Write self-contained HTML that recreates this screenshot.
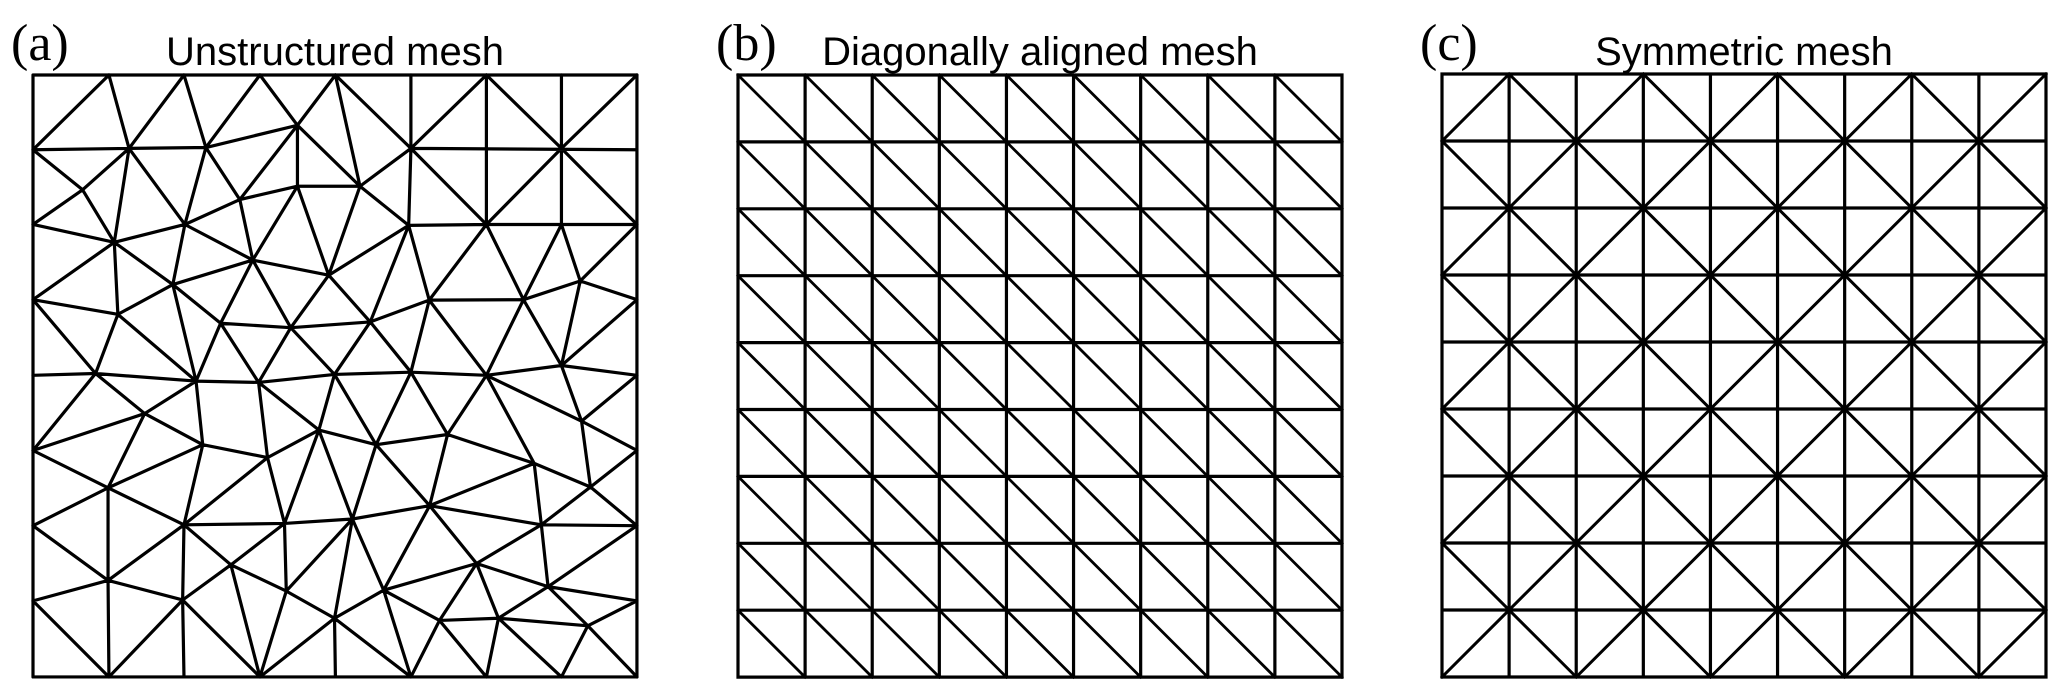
<!DOCTYPE html>
<html><head><meta charset="utf-8"><style>
html,body{margin:0;padding:0;background:#fff;}
svg{display:block;}
</style></head><body>
<svg width="2067" height="699" viewBox="0 0 2067 699" xmlns="http://www.w3.org/2000/svg">
<g font-family="Liberation Serif, serif" font-size="52" fill="#000">
<text x="11" y="60">(a)</text>
<text x="716" y="60">(b)</text>
<text x="1420" y="60">(c)</text>
</g>
<g font-family="Liberation Sans, sans-serif" font-size="40" fill="#000" text-anchor="middle">
<text x="335" y="65">Unstructured mesh</text>
<text x="1040" y="65">Diagonally aligned mesh</text>
<text x="1744" y="65">Symmetric mesh</text>
</g>

<!-- Panel a -->
<g transform="translate(33,75) scale(0.4467,0.4449) translate(-75,-167)" fill="none" stroke="#000" stroke-width="3.2" stroke-linejoin="round" stroke-linecap="round">
<rect x="75" y="167" width="1352" height="1353" vector-effect="non-scaling-stroke"/>
<path vector-effect="non-scaling-stroke" d="
M75 335L245 167 M245 167L290 332 M290 332L413 167 M413 167L462 330 M462 330L583 167 M583 167L667 280 M667 280L752 167
M752 167L807 417 M752 167L921 332 M462 330L667 280 M921 167L921 332 M921 332L1090 167 M1090 167L1090 335 M1090 167L1258 332
M1258 332L1427 167 M1258 167L1258 332 M921 332L1427 335 M1090 335L1090 503 M1258 332L1258 503 M916 505L1090 503L1427 503
M921 332L916 505 M75 335L290 332L462 330 M75 335L186 425 M186 425L75 503 M186 425L290 332 M186 425L257 543 M290 332L257 543
M290 332L415 503 M462 330L415 503 M462 330L538 447 M667 280L538 447 M667 280L667 417 M667 280L807 417 M538 447L667 417L807 417
M807 417L921 332 M807 417L916 505 M921 332L1090 503 M1090 503L1258 332 M1258 332L1427 503
M75 503L257 543L415 503L538 447 M538 447L567 583 M415 503L567 583 M667 417L567 583 M667 417L737 617 M807 417L737 617
M567 583L737 617L916 505 M257 543L75 672 M257 543L265 705 M257 543L388 638 M415 503L388 638 M567 583L388 638
M75 672L265 705L388 638 M916 505L962 673 M916 505L830 722 M1090 503L962 673 M1090 503L1173 672 M1258 503L1173 672
M1258 503L1300 630 M1427 503L1300 630 M962 673L1173 672L1300 630L1427 672 M737 617L652 735 M737 617L830 722
M567 583L652 735 M567 583L495 725 M388 638L495 725 M495 725L652 735L830 722L962 673 M75 672L215 838 M265 705L215 838
M265 705L440 855 M388 638L440 855 M495 725L440 855 M495 725L580 858 M652 735L580 858 M652 735L750 840 M830 722L750 840
M830 722L921 835 M962 673L921 835 M962 673L1090 842 M1173 672L1090 842 M1173 672L1258 820 M1300 630L1258 820 M1427 672L1258 820
M75 842L215 838L440 855L580 858L750 840L921 835L1090 842L1258 820L1427 842
M215 838L325 928 M440 855L325 928 M75 1011L325 928 M215 838L75 1011 M325 928L455 998 M325 928L243 1095 M440 855L455 998
M455 998L600 1027 M580 858L600 1027 M580 858L715 965 M600 1027L715 965 M750 840L715 965 M750 840L843 998 M715 965L843 998
M921 835L843 998 M921 835L1003 975 M843 998L1003 975 M1090 842L1003 975 M1090 842L1303 945 M1090 842L1197 1040
M1258 820L1303 945 M1427 842L1303 945 M1303 945L1427 1011 M1003 975L1197 1040 M1303 945L1323 1093 M1427 1011L1323 1093
M1197 1040L1323 1093 M75 1011L243 1095 M455 998L243 1095 M455 998L413 1178 M600 1027L413 1178 M600 1027L638 1175
M715 965L638 1175 M715 965L790 1165 M843 998L790 1165 M843 998L963 1135 M1003 975L963 1135 M1197 1040L963 1135
M1197 1040L1213 1178 M1323 1093L1213 1178 M1323 1093L1427 1180 M963 1135L1213 1178L1427 1180 M243 1095L75 1180
M243 1095L413 1178 M243 1095L243 1303L245 1520 M413 1178L638 1175L790 1165L963 1135 M75 1180L243 1303 M413 1178L243 1303
M413 1178L410 1347L413 1520 M413 1178L518 1268 M638 1175L518 1268 M638 1175L642 1327 M790 1165L642 1327 M790 1165L750 1388
M790 1165L860 1325 M963 1135L860 1325 M963 1135L1068 1265 M1213 1178L1068 1265 M1213 1178L1228 1317 M1427 1180L1228 1317
M518 1268L642 1327L750 1388L860 1325L1068 1265L1228 1317L1427 1349 M75 1349L243 1303L410 1347L518 1268
M518 1268L583 1520 M642 1327L583 1520 M750 1388L583 1520 M750 1388L752 1520 M860 1325L921 1520 M860 1325L985 1393
M1068 1265L985 1393 M1068 1265L1117 1388 M1228 1317L1117 1388 M1228 1317L1317 1405 M1427 1349L1317 1405
M985 1393L1117 1388L1317 1405 M75 1349L245 1520 M245 1520L410 1347 M410 1347L583 1520 M750 1388L921 1520
M985 1393L921 1520 M985 1393L1090 1520 M1117 1388L1090 1520 M1117 1388L1258 1520 M1317 1405L1258 1520 M1317 1405L1427 1520"/>
</g>

<!-- Panel b -->
<g transform="translate(738,75) scale(67.11,66.9)" fill="none" stroke="#000" stroke-width="3.2" stroke-linecap="square">
<path vector-effect="non-scaling-stroke" d="
M0 0H9 M0 1H9 M0 2H9 M0 3H9 M0 4H9 M0 5H9 M0 6H9 M0 7H9 M0 8H9 M0 9H9
M0 0V9 M1 0V9 M2 0V9 M3 0V9 M4 0V9 M5 0V9 M6 0V9 M7 0V9 M8 0V9 M9 0V9"/>
<path vector-effect="non-scaling-stroke" stroke-width="2.8" d="
M0 0L9 9 M0 1L8 9 M0 2L7 9 M0 3L6 9 M0 4L5 9 M0 5L4 9 M0 6L3 9 M0 7L2 9 M0 8L1 9
M1 0L9 8 M2 0L9 7 M3 0L9 6 M4 0L9 5 M5 0L9 4 M6 0L9 3 M7 0L9 2 M8 0L9 1"/>
</g>

<!-- Panel c -->
<g transform="translate(1442,74) scale(67.11,67)" fill="none" stroke="#000" stroke-width="3.2" stroke-linecap="square">
<path vector-effect="non-scaling-stroke" d="
M0 0H9 M0 1H9 M0 2H9 M0 3H9 M0 4H9 M0 5H9 M0 6H9 M0 7H9 M0 8H9 M0 9H9
M0 0V9 M1 0V9 M2 0V9 M3 0V9 M4 0V9 M5 0V9 M6 0V9 M7 0V9 M8 0V9 M9 0V9"/>
<path vector-effect="non-scaling-stroke" stroke-width="3" d="
M0 1L1 0 M0 3L3 0 M0 5L5 0 M0 7L7 0 M0 9L9 0 M2 9L9 2 M4 9L9 4 M6 9L9 6 M8 9L9 8
M0 1L8 9 M0 3L6 9 M0 5L4 9 M0 7L2 9 M1 0L9 8 M3 0L9 6 M5 0L9 4 M7 0L9 2"/>
</g>
</svg>
</body></html>
